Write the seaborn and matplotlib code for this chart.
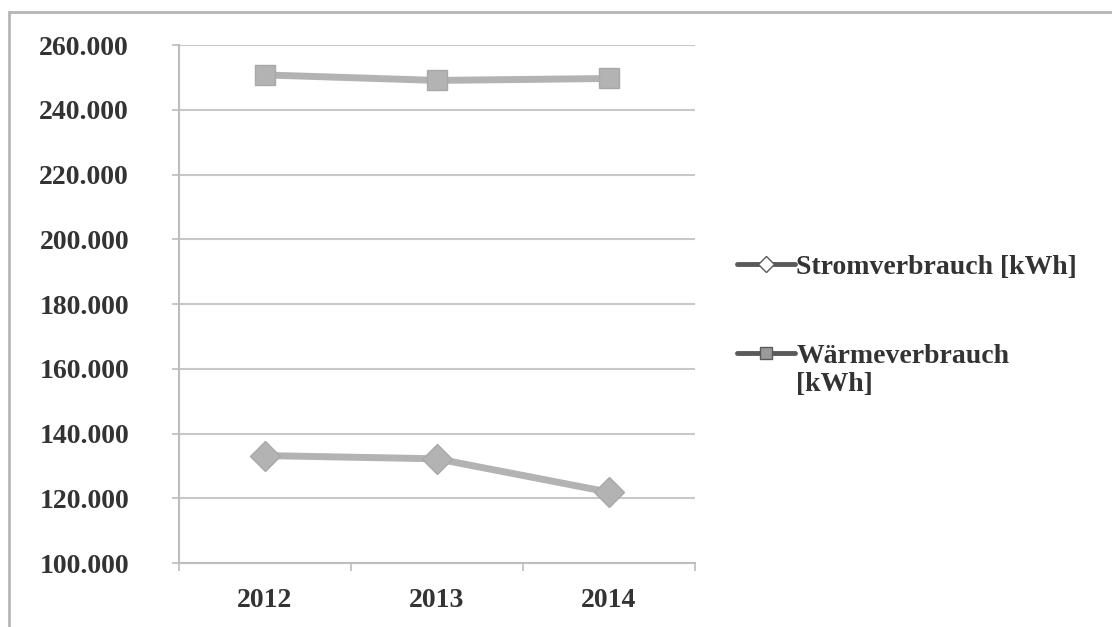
import matplotlib
matplotlib.use("Agg")
import matplotlib.pyplot as plt
from matplotlib.patches import Rectangle
from matplotlib.ticker import FuncFormatter
import pandas as pd
import seaborn as sns

# data
jahre = ["2012", "2013", "2014"]
strom = [133200, 132200, 121900]
waerme = [250800, 249100, 249700]
serien = ["Stromverbrauch [kWh]", "Wärmeverbrauch"]
einheit_umbruch = "[kWh]"  # second line of the Wärme legend entry
y_ticks = [100000, 120000, 140000, 160000, 180000, 200000, 220000, 240000, 260000]

LINE_GREY = "#b3b3b3"
DARK_GREY = "#5a5a5a"
TEXT = "#333333"

df = pd.DataFrame({
    "Jahr": jahre * 2,
    "Wert": strom + waerme,
    "Serie": [serien[0]] * len(jahre) + [serien[1]] * len(jahre),
})

sns.set_style("white")
plt.rcParams["font.family"] = ["Liberation Serif", "DejaVu Serif"]
plt.rcParams["font.weight"] = "bold"

fig = plt.figure(figsize=(11.12, 6.27), dpi=100)
ax = fig.add_axes([0.161, 0.102, 0.464, 0.826])

sns.lineplot(
    data=df, x="Jahr", y="Wert", hue="Serie", style="Serie",
    palette={serien[0]: LINE_GREY, serien[1]: LINE_GREY},
    markers={serien[0]: "D", serien[1]: "s"}, dashes=False,
    linewidth=5, markersize=15, markeredgecolor="#a8a8a8",
    markeredgewidth=1, sort=False, ax=ax,
)

ax.set_xlim(-0.5, 2.5)
ax.set_ylim(100000, 260000)
ax.set_yticks(y_ticks)
ax.yaxis.set_major_formatter(FuncFormatter(lambda v, p: f"{v/1000:.0f}.000"))
ax.set_xticks([0, 1, 2])
ax.set_xticks([-0.5, 0.5, 1.5, 2.5], minor=True)
ax.grid(axis="y", color="#c8c8c8", linewidth=1.5)
ax.set_axisbelow(True)
ax.set_xlabel("")
ax.set_ylabel("")

for side in ["top", "right"]:
    ax.spines[side].set_visible(False)
for side in ["left", "bottom"]:
    ax.spines[side].set_color("#bdbdbd")
    ax.spines[side].set_linewidth(1.5)

ax.tick_params(axis="y", length=5, width=1.2, color="#bdbdbd", pad=31,
               labelsize=20, labelcolor=TEXT, left=True)
ax.tick_params(axis="x", which="major", length=0, pad=18,
               labelsize=20, labelcolor=TEXT)
ax.tick_params(axis="x", which="minor", length=6, width=1.2,
               color="#bdbdbd", bottom=True)

# legend right of the plot, darker handles as in the original
handles, labels = ax.get_legend_handles_labels()
ax.get_legend().remove()
leg = fig.legend(
    handles, labels, loc="center left", bbox_to_anchor=(0.640, 0.503),
    frameon=False, fontsize=20, handlelength=2.1, handletextpad=0.05,
    labelspacing=2.3, labelcolor=TEXT,
)
for h in leg.legend_handles:
    h.set_color(DARK_GREY)
    h.set_linewidth(3.5)
    h.set_markersize(8)
    h.set_markeredgecolor(DARK_GREY)
leg.legend_handles[0].set_markerfacecolor("white")
leg.legend_handles[1].set_markerfacecolor("#9a9a9a")
for t in leg.get_texts():
    t.set_fontweight("bold")

# wrapped unit of the second legend entry, placed under its first line
fig.canvas.draw()
bb = leg.get_texts()[1].get_window_extent().transformed(fig.transFigure.inverted())
fig.text(bb.x0, bb.y0 - 0.005, einheit_umbruch, ha="left", va="top",
         fontsize=20, fontweight="bold", color=TEXT)

# outer chart border (cut off on the right and bottom in the scan)
fig.add_artist(Rectangle((0.008, -0.1), 1.2, 1.1 - 12 / 627,
                         transform=fig.transFigure, fill=False,
                         edgecolor="#b5b5b5", linewidth=2))

fig.savefig("out.png", dpi=100, facecolor="white")
